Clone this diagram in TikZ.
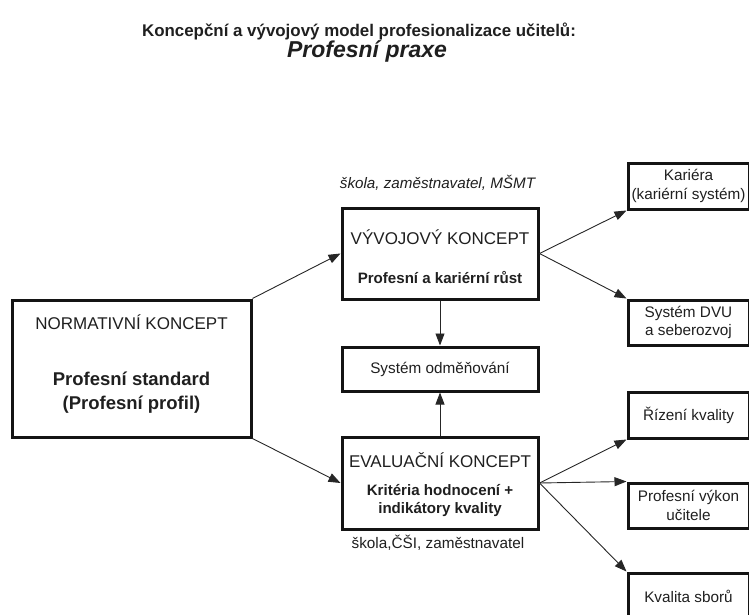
\documentclass[tikz,border=0pt]{standalone}
\usepackage{fontspec}
\setmainfont{Liberation Sans}
\usetikzlibrary{positioning, arrows.meta}

\begin{document}
\begin{tikzpicture}[
    x=1pt, y=-1pt,
    box/.style={draw=black!92, line width=3pt, rectangle, inner sep=0pt, align=center, text=black!88, font=\fontsize{15.3}{18.5}\selectfont},
    side/.style={box, minimum width=121pt, minimum height=46pt},
    head/.style={anchor=base, text=black!88, font=\fontsize{17}{20}\selectfont},
    sub/.style={anchor=base, text=black!88, font=\fontsize{15.1}{18}\selectfont\bfseries},
    who/.style={anchor=base, text=black!88, font=\fontsize{15.3}{18}\selectfont},
    arr/.style={-{Triangle[length=12pt, width=9pt]}, line width=0.9pt, draw=black!85}
]
    \useasboundingbox (0,0) rectangle (749,615);

    % title
    \node[anchor=base, font=\fontsize{16.9}{20}\selectfont\bfseries, text=black!88] (title) at (359,37) {Koncepční a vývojový model profesionalizace učitelů:};
    \node[anchor=base, font=\fontsize{23}{26}\selectfont\bfseries\itshape, text=black!88] (subtitle) at (367,58) {Profesní praxe};

    % concept boxes
    \node[box, minimum width=239pt, minimum height=137pt] (norm) at (131.5,368.5) {};
    \node[head] (normh) at (131.5,329) {NORMATIVNÍ KONCEPT};
    \node[sub, font=\fontsize{18.5}{22}\selectfont\bfseries] (norms) at (131.5,385) {Profesní standard};
    \node[sub, font=\fontsize{18.5}{22}\selectfont\bfseries] (normp) at (131.5,409) {(Profesní profil)};

    \node[box, minimum width=196pt, minimum height=91pt] (vyv) at (440,253.5) {};
    \node[head] (vyvh) at (440,244) {VÝVOJOVÝ KONCEPT};
    \node[sub] (vyvs) at (440,283) {Profesní a kariérní růst};
    \node[who, font=\fontsize{15.2}{18}\selectfont\itshape] (vyvw) at (437.5,188) {škola, zaměstnavatel, MŠMT};

    \node[box, minimum width=196pt, minimum height=44pt] (odm) at (440,369) {Systém odměňování};

    \node[box, minimum width=196pt, minimum height=92pt] (eva) at (440,483) {};
    \node[head] (evah) at (440,467) {EVALUAČNÍ KONCEPT};
    \node[sub] (evak) at (440,495) {Kritéria hodnocení +};
    \node[sub] (evai) at (440,513) {indikátory kvality};
    \node[who] (evaw) at (438,548) {škola,ČŠI, zaměstnavatel};

    % right column
    \node[side] (kar) at (688.5,186) {Kariéra\\(kariérní systém)};
    \node[side, minimum height=45pt] (dvu) at (688.5,322.5) {Systém DVU\\a seberozvoj};
    \node[side] (riz) at (688.5,415) {Řízení kvality};
    \node[side, minimum height=45pt] (vyk) at (688.5,505.5) {Profesní výkon\\učitele};
    \node[side] (kva) at (688.5,596) {Kvalita sborů};

    \draw[arr] (norm.north east) -- (vyv.west);
    \draw[arr] (norm.south east) -- (eva.west);
    \draw[arr] (vyv.south) -- (odm.north);
    \draw[arr] (eva.north) -- (odm.south);
    \draw[arr] (vyv.east) -- (kar.south west);
    \draw[arr] (vyv.east) -- (dvu.north west);
    \draw[arr] (eva.east) -- (riz.south west);
    \draw[arr] (eva.east) -- (vyk.north west);
    \draw[arr] (eva.east) -- (kva.north west);
\end{tikzpicture}
\end{document}
